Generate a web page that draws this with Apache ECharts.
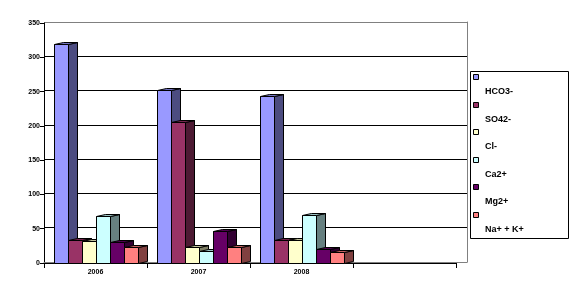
<!DOCTYPE html>
<html>
<head>
<meta charset="utf-8">
<script src="https://cdn.jsdelivr.net/npm/echarts@6/dist/echarts.min.js"></script>
<style>html,body{margin:0;padding:0;background:#fff}#c{width:574px;height:297px}</style>
</head>
<body>
<div id="c"></div>
<script>
// ---- data ----
var categories = ['2006', '2007', '2008', ''];
var seriesNames = ['HCO3-', 'SO42-', 'Cl-', 'Ca2+', 'Mg2+', 'Na+ + K+'];
var hco3 = [320, 252, 244];
var so4  = [34, 206, 34];
var cl   = [32, 23, 34];
var ca   = [69, 17, 70];
var mg   = [30, 46, 20];
var nak  = [23, 23, 16];
var yTicks = [0, 50, 100, 150, 200, 250, 300, 350];

// ---- styles ----
var frontColors = ['#9999ff', '#993366', '#ffffcc', '#ccffff', '#660066', '#ff8080'];
var sideColors  = ['#4c4c80', '#4d1a33', '#808066', '#668080', '#330033', '#804040'];
var topColors   = ['#7373c0', '#73264d', '#c0c099', '#99c0c0', '#4d004d', '#c06060'];
var allValues = [hco3, so4, cl, ca, mg, nak];
var FONT = '"Liberation Sans", Arial, sans-serif';

function makeRender(idx) {
  return function (params, api) {
    var cat = api.value(0), v = api.value(1);
    var base = api.coord([cat, 0]);
    var top = api.coord([cat, v]);
    var W = api.size([1, 0])[0];
    var bw = W * 0.1365;
    var x0 = Math.round(base[0] - W / 2 + W * 0.097 + idx * bw) + 0.5;
    var x1 = Math.round(base[0] - W / 2 + W * 0.097 + (idx + 1) * bw) + 0.5;
    var yB = Math.round(base[1]) + 0.5;
    var yT = Math.round(top[1]) + 0.5;
    var dx = Math.round(W * 0.092), dy = -2;
    var st = { stroke: '#000', lineWidth: 1 };
    return {
      type: 'group',
      children: [
        { type: 'polygon', shape: { points: [[x1, yT], [x1 + dx, yT + dy], [x1 + dx, yB + dy], [x1, yB]] },
          style: Object.assign({ fill: sideColors[idx] }, st) },
        { type: 'polygon', shape: { points: [[x0, yT], [x0 + dx, yT + dy], [x1 + dx, yT + dy], [x1, yT]] },
          style: Object.assign({ fill: topColors[idx] }, st) },
        { type: 'rect', shape: { x: x0, y: yT, width: x1 - x0, height: yB - yT },
          style: Object.assign({ fill: frontColors[idx] }, st) }
      ]
    };
  };
}

var series = seriesNames.map(function (name, i) {
  return {
    type: 'custom',
    name: name,
    xAxisIndex: 0, yAxisIndex: 0,
    renderItem: makeRender(i),
    data: allValues[i].map(function (v, k) { return [k, v]; }),
    z: 10 + i
  };
});

// legend drawn as graphic (icon line, text line below)
var legendGraphic = [{
  type: 'rect', shape: { x: 470.5, y: 71.5, width: 98, height: 167 },
  style: { fill: '#fff', stroke: '#000', lineWidth: 1 }, z: 1
}];
seriesNames.forEach(function (name, i) {
  var y = 74 + i * 27.5;
  legendGraphic.push({
    type: 'rect', shape: { x: Math.round(473) + 0.5, y: Math.round(y) + 0.5, width: 5, height: 5 },
    style: { fill: frontColors[i], stroke: '#000', lineWidth: 1 }, z: 2
  });
  legendGraphic.push({
    type: 'text', x: 485, y: Math.round(y) + 18,
    style: { text: name, fill: '#000', font: 'bold 9px ' + FONT, textVerticalAlign: 'middle' }, z: 2
  });
});

var chart = echarts.init(document.getElementById('c'), null, { renderer: 'canvas' });
chart.setOption({
  animation: false,
  backgroundColor: '#fff',
  grid: [
    { left: 44, right: 118, top: 23, bottom: 34 },
    { left: 44, right: 107, top: 22, bottom: 35 }
  ],
  xAxis: [
    {
      type: 'category', gridIndex: 0, data: categories, boundaryGap: true,
      axisLine: { lineStyle: { color: '#000', width: 1 } },
      axisTick: { show: true, length: 5, lineStyle: { color: '#000' } },
      axisLabel: { margin: 6, color: '#000', fontSize: 7, fontWeight: 'bold', fontFamily: FONT },
      splitLine: { show: false }
    },
    {
      type: 'category', gridIndex: 1, data: categories,
      axisLine: { lineStyle: { color: '#808080', width: 1 } },
      axisTick: { show: false }, axisLabel: { show: false }, splitLine: { show: false }
    }
  ],
  yAxis: [
    {
      type: 'value', gridIndex: 0, min: 0, max: 350, interval: 50,
      axisLine: { show: true, lineStyle: { color: '#000' } },
      axisTick: { show: true, length: 4, lineStyle: { color: '#000' } },
      axisLabel: { margin: 4, color: '#000', fontSize: 7, fontWeight: 'bold', fontFamily: FONT },
      splitLine: { show: false }
    },
    {
      type: 'value', gridIndex: 1, min: 0, max: 350, interval: 50, position: 'right',
      axisLine: { show: true, lineStyle: { color: '#808080' } },
      axisTick: { show: false }, axisLabel: { show: false },
      splitLine: { show: true, lineStyle: { color: ['#808080', '#000', '#000', '#000', '#000', '#000', '#000', '#808080'], width: 1 } }
    }
  ],
  graphic: legendGraphic,
  series: series
});
</script>
</body>
</html>
